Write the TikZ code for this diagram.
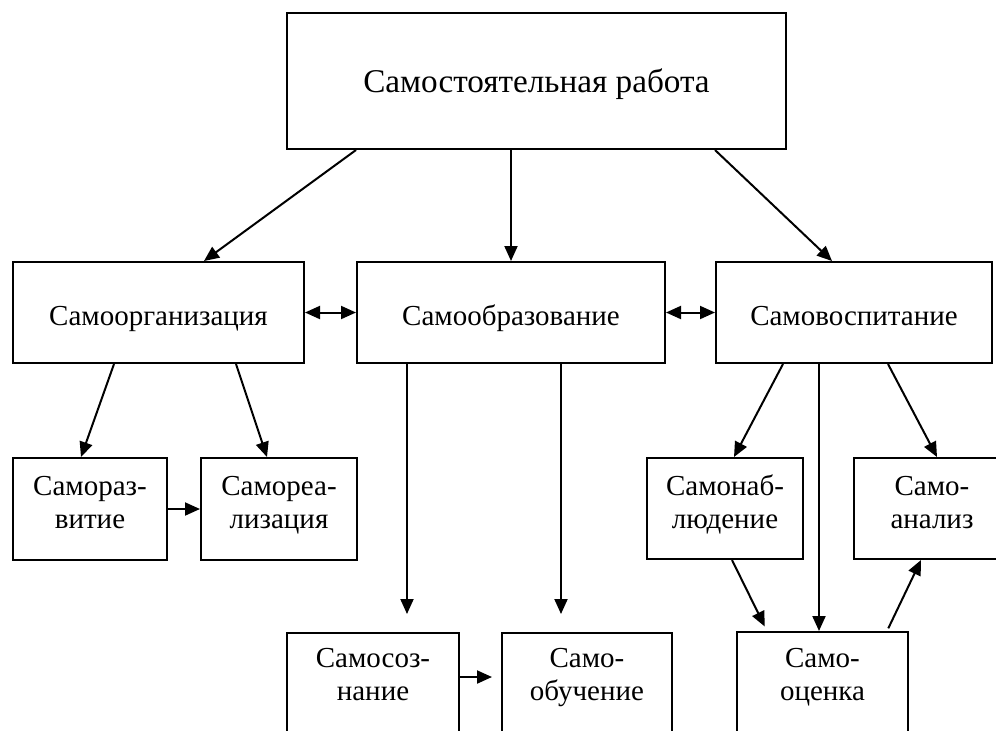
\documentclass[tikz,border=0pt]{standalone}
\usepackage{fontspec}
\setmainfont{Liberation Serif}
\usetikzlibrary{arrows.meta}
\begin{document}
\begin{tikzpicture}[x=0.5pt,y=-0.5pt,
  box/.style={draw,line width=1pt,inner sep=0pt,fill=white},
  txt/.style={align=center,font=\fontsize{14.5}{16.5}\selectfont,inner sep=0pt},
  arr/.style={line width=1pt,-{Triangle[length=7.5pt,width=6.5pt]}},
  darr/.style={line width=1pt,{Triangle[length=7.5pt,width=6.5pt]}-{Triangle[length=7.5pt,width=6.5pt]}}]
\clip (0,0) rectangle (996,730);
\fill[white] (0,0) rectangle (996,730);
% top
\node[box,minimum width=249.5pt,minimum height=68pt] (top) at (536.5,81) {};
\node[txt,font=\fontsize{16.6}{19}\selectfont] (topt) at (536.5,84.4) {\strut Самостоятельная работа};
% row 2
\node[box,minimum width=145.5pt,minimum height=50.5pt] (org) at (158.5,312.5) {};
\node[txt] (orgt) at (158.5,318.4) {\strut Самоорганизация};
\node[box,minimum width=154pt,minimum height=50.5pt] (obr) at (511,312.5) {};
\node[txt] (obrt) at (511,318.4) {\strut Самообразование};
\node[box,minimum width=138pt,minimum height=50.5pt] (vos) at (854,312.5) {};
\node[txt] (vost) at (854,318.4) {\strut Самовоспитание};
% row 3
\node[box,minimum width=77pt,minimum height=51pt] (razv) at (90,509) {};
\node[txt] (razvt) at (90,505) {\strut Самораз-\\\strut витие};
\node[box,minimum width=78pt,minimum height=51pt] (real) at (279,509) {};
\node[txt] (realt) at (279,505) {\strut Самореа-\\\strut лизация};
\node[box,minimum width=78pt,minimum height=50.5pt] (nabl) at (725,508.5) {};
\node[txt] (nablt) at (725,505) {\strut Самонаб-\\\strut людение};
\node[box,minimum width=78pt,minimum height=50.5pt] (anal) at (932,508.5) {};
\node[txt] (analt) at (932,505) {\strut Само-\\\strut анализ};
% row 4
\node[box,minimum width=86pt,minimum height=70pt,anchor=north] (sozn) at (373,632) {};
\node[txt] (soznt) at (373,677) {\strut Самосоз-\\\strut нание};
\node[box,minimum width=85pt,minimum height=70pt,anchor=north] (obuch) at (587,632) {};
\node[txt] (obucht) at (587,677) {\strut Само-\\\strut обучение};
\node[box,minimum width=85.5pt,minimum height=70pt,anchor=north] (otsen) at (822.5,631) {};
\node[txt] (otsent) at (822.5,677) {\strut Само-\\\strut оценка};
% connectors from top
\draw[arr] ([xshift=35pt]top.south west) -- ([xshift=96pt]org.north west);
\draw[arr] (obr.north |- top.south) -- (obr.north);
\draw[arr] ([xshift=214.5pt]top.south west) -- ([xshift=58.5pt]vos.north west);
% row 2 links
\draw[darr] (org.east) -- (obr.west);
\draw[darr] (obr.east) -- (vos.west);
% from org
\draw[arr] ([xshift=51pt]org.south west) -- ([xshift=34.5pt]razv.north west);
\draw[arr] ([xshift=112pt]org.south west) -- ([xshift=33.5pt]real.north west);
\draw[arr] (razv.east) -- (real.west);
% from obr
\draw[arr,shorten >=9pt] ([xshift=25.5pt]obr.south west) -- ([xshift=25.5pt]obr.south west |- sozn.north);
\draw[arr,shorten >=9pt] ([xshift=102.5pt]obr.south west) -- ([xshift=102.5pt]obr.south west |- obuch.north);
\draw[arr,shorten >=4.5pt] (sozn.east |- soznt) -- (obuch.west |- soznt);
% from vos
\draw[arr] ([xshift=34pt]vos.south west) -- ([xshift=44pt]nabl.north west);
\draw[arr] ([xshift=52pt]vos.south west) -- ([xshift=52pt]vos.south west |- otsen.north);
\draw[arr] ([xshift=86.5pt]vos.south west) -- ([xshift=42pt]anal.north west);
\draw[arr,shorten >=2.5pt] ([xshift=43pt]nabl.south west) -- ([xshift=15.5pt]otsen.north west);
\draw[arr,shorten <=1.5pt] ([xshift=75.5pt]otsen.north west) -- ([xshift=34pt]anal.south west);
\end{tikzpicture}
\end{document}
